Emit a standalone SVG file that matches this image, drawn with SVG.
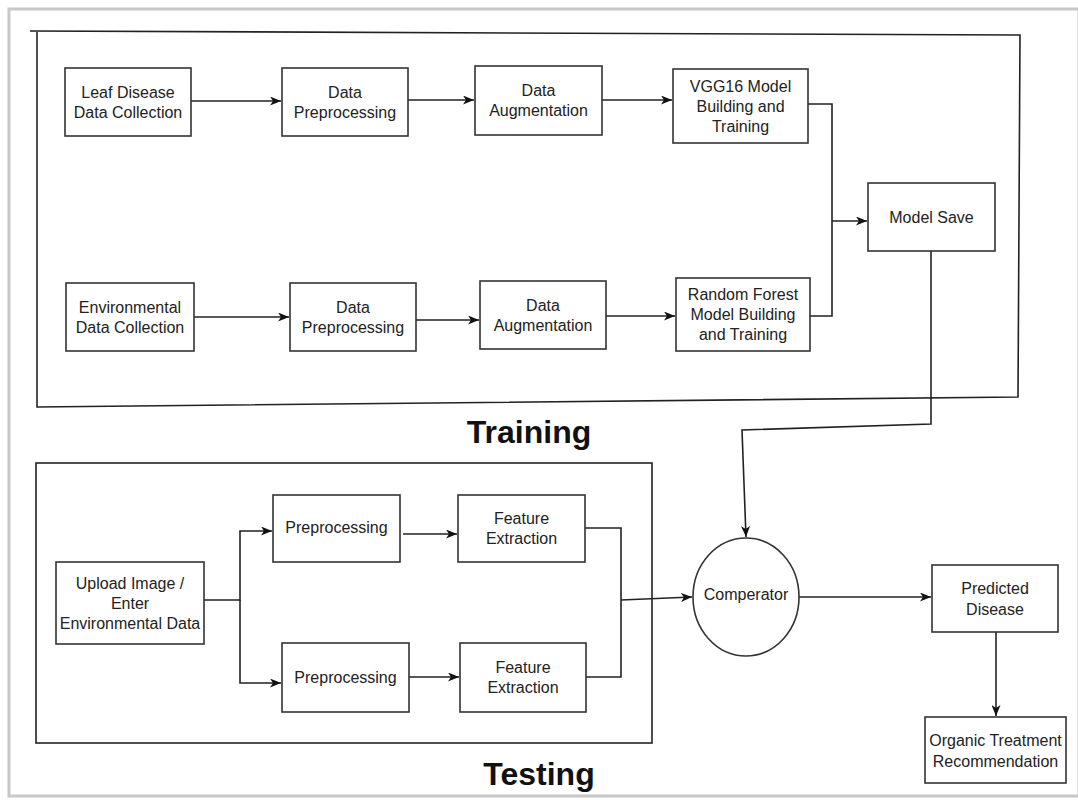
<svg xmlns="http://www.w3.org/2000/svg" width="1078" height="800" viewBox="0 0 1078 800">
<defs>
<marker id="ah" viewBox="0 0 11 9" refX="11" refY="4.5" markerWidth="11" markerHeight="9" markerUnits="userSpaceOnUse" orient="auto">
<path d="M0,0 L11,4.5 L0,9 L3,4.5 z" fill="#111"/>
</marker>
<style>
.box{fill:#fff;stroke:#333;stroke-width:1.6}
.lbl{font-family:"Liberation Sans",Arial,sans-serif;font-size:16px;fill:#222;text-anchor:middle}
.title{font-family:"Liberation Sans",Arial,sans-serif;font-size:32px;font-weight:bold;fill:#111;text-anchor:middle}
.con{fill:none;stroke:#222;stroke-width:1.6}
.frame{fill:none;stroke:#222;stroke-width:1.6}
</style>
</defs>
<rect x="0" y="0" width="1078" height="800" fill="#fff"/>
<rect x="9" y="9" width="1070" height="787" fill="none" stroke="#c8c8c8" stroke-width="3"/>

<g id="training-frame">
<path class="frame" d="M30,31 L1020,35 L1018,397 L37,407 L37,31"/>
<text class="title" x="529" y="443">Training</text>
</g>
<g id="testing-frame">
<rect class="frame" x="36" y="463" width="616" height="280"/>
<text class="title" x="539" y="785">Testing</text>
</g>

<g id="connectors">
<path class="con" d="M191,101 H281" marker-end="url(#ah)"/>
<path class="con" d="M408,100 H474" marker-end="url(#ah)"/>
<path class="con" d="M602,100 H672" marker-end="url(#ah)"/>
<path class="con" d="M808,104 H832 V316 H810"/>
<path class="con" d="M832,221 H867" marker-end="url(#ah)"/>
<path class="con" d="M194,317 H289" marker-end="url(#ah)"/>
<path class="con" d="M416,320 H479" marker-end="url(#ah)"/>
<path class="con" d="M606,316 H675" marker-end="url(#ah)"/>
<path class="con" d="M931,251 L931,424 L742,430 L746,537" marker-end="url(#ah)"/>
<path class="con" d="M204,600 H240 V531 H272" marker-end="url(#ah)"/>
<path class="con" d="M240,600 V683 H281" marker-end="url(#ah)"/>
<path class="con" d="M403,534 H457" marker-end="url(#ah)"/>
<path class="con" d="M409,677 H459" marker-end="url(#ah)"/>
<path class="con" d="M585,528 H621 V677 H586"/>
<path class="con" d="M621,600 L692,597" marker-end="url(#ah)"/>
<path class="con" d="M799,597 H931" marker-end="url(#ah)"/>
<path class="con" d="M996,632 V716" marker-end="url(#ah)"/>
</g>

<g id="leaf-collection">
<rect class="box" x="65" y="68" width="126" height="68"/>
<text class="lbl" x="128" y="97.5">Leaf Disease</text>
<text class="lbl" x="128" y="117.5">Data Collection</text>
</g>
<g id="data-preprocessing-1">
<rect class="box" x="282" y="68" width="126" height="68"/>
<text class="lbl" x="345" y="97.5">Data</text>
<text class="lbl" x="345" y="117.5">Preprocessing</text>
</g>
<g id="data-augmentation-1">
<rect class="box" x="475" y="66" width="127" height="69"/>
<text class="lbl" x="538.5" y="96">Data</text>
<text class="lbl" x="538.5" y="116">Augmentation</text>
</g>
<g id="vgg16">
<rect class="box" x="673" y="69" width="135" height="74"/>
<text class="lbl" x="740.5" y="91.5">VGG16 Model</text>
<text class="lbl" x="740.5" y="111.5">Building and</text>
<text class="lbl" x="740.5" y="131.5">Training</text>
</g>
<g id="model-save">
<rect class="box" x="868" y="183" width="127" height="68"/>
<text class="lbl" x="931.5" y="222.5">Model Save</text>
</g>
<g id="env-collection">
<rect class="box" x="66" y="283" width="128" height="68"/>
<text class="lbl" x="130" y="312.5">Environmental</text>
<text class="lbl" x="130" y="332.5">Data Collection</text>
</g>
<g id="data-preprocessing-2">
<rect class="box" x="290" y="283" width="126" height="68"/>
<text class="lbl" x="353" y="312.5">Data</text>
<text class="lbl" x="353" y="332.5">Preprocessing</text>
</g>
<g id="data-augmentation-2">
<rect class="box" x="480" y="281" width="126" height="68"/>
<text class="lbl" x="543" y="310.5">Data</text>
<text class="lbl" x="543" y="330.5">Augmentation</text>
</g>
<g id="random-forest">
<rect class="box" x="676" y="278" width="134" height="73"/>
<text class="lbl" x="743" y="300">Random Forest</text>
<text class="lbl" x="743" y="320">Model Building</text>
<text class="lbl" x="743" y="340">and Training</text>
</g>

<g id="upload">
<rect class="box" x="56" y="562" width="148" height="82"/>
<text class="lbl" x="130" y="588.5">Upload Image /</text>
<text class="lbl" x="130" y="608.5">Enter</text>
<text class="lbl" x="130" y="628.5">Environmental Data</text>
</g>
<g id="preprocessing-1">
<rect class="box" x="273" y="495" width="127" height="67"/>
<text class="lbl" x="336.5" y="533">Preprocessing</text>
</g>
<g id="feature-extraction-1">
<rect class="box" x="458" y="495" width="127" height="67"/>
<text class="lbl" x="521.5" y="524">Feature</text>
<text class="lbl" x="521.5" y="544">Extraction</text>
</g>
<g id="preprocessing-2">
<rect class="box" x="282" y="643" width="127" height="69"/>
<text class="lbl" x="345.5" y="683">Preprocessing</text>
</g>
<g id="feature-extraction-2">
<rect class="box" x="460" y="643" width="126" height="69"/>
<text class="lbl" x="523" y="673">Feature</text>
<text class="lbl" x="523" y="693">Extraction</text>
</g>
<g id="comparator">
<ellipse class="box" cx="746" cy="597" rx="53" ry="59"/>
<text class="lbl" x="746" y="600">Comperator</text>
</g>
<g id="predicted-disease">
<rect class="box" x="932" y="565" width="126" height="67"/>
<text class="lbl" x="995" y="594">Predicted</text>
<text class="lbl" x="995" y="615">Disease</text>
</g>
<g id="organic-treatment">
<rect class="box" x="925" y="717" width="141" height="66"/>
<text class="lbl" x="995.5" y="745.5">Organic Treatment</text>
<text class="lbl" x="995.5" y="766.5">Recommendation</text>
</g>
</svg>
